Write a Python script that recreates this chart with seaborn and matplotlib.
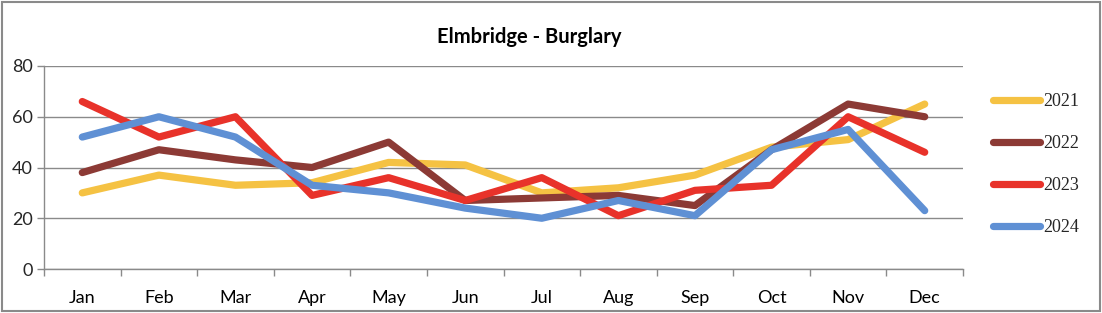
import matplotlib
matplotlib.use("Agg")
import matplotlib.pyplot as plt
import seaborn as sns
import pandas as pd
from matplotlib.patches import Rectangle
from matplotlib.lines import Line2D

months = ["Jan", "Feb", "Mar", "Apr", "May", "Jun", "Jul", "Aug", "Sep", "Oct", "Nov", "Dec"]
years = ["2021", "2022", "2023", "2024"]
v2021 = [30, 37, 33, 34, 42, 41, 30, 32, 37, 48, 51, 65]
v2022 = [38, 47, 43, 40, 50, 27, 28, 29, 25, 47, 65, 60]
v2023 = [66, 52, 60, 29, 36, 27, 36, 21, 31, 33, 60, 46]
v2024 = [52, 60, 52, 33, 30, 24, 20, 27, 21, 47, 55, 23]
colors = ["#F5C243", "#8C3A35", "#E8322A", "#5F90D4"]

rows = []
for y, vals in zip(years, [v2021, v2022, v2023, v2024]):
    for m, v in zip(months, vals):
        rows.append({"Month": m, "Year": y, "Value": v})
df = pd.DataFrame(rows)

sns.set_theme(style="white")
plt.rcParams["font.family"] = ["Lato", "DejaVu Sans"]

fig = plt.figure(figsize=(11.02, 3.13), dpi=100)
ax = fig.add_axes([44 / 1102, 1 - 269 / 313, (963 - 44) / 1102, (269 - 66) / 313])

sns.lineplot(data=df, x="Month", y="Value", hue="Year", palette=colors,
             linewidth=5.2, sort=False, ax=ax, legend=False,
             solid_capstyle="round", solid_joinstyle="round")

ax.set_xlim(-0.5, 11.5)
ax.set_ylim(0, 80)
ax.set_yticks([0, 20, 40, 60, 80])
ax.set_xticks(range(12))
ax.set_xticklabels(months)
ax.set_xticks([i - 0.5 for i in range(13)], minor=True)
ax.tick_params(axis="x", which="major", length=0, pad=15, labelsize=13, colors="#000000")
ax.tick_params(axis="x", which="minor", length=5, width=1, color="#8a8a8a", direction="out", bottom=True)
ax.tick_params(axis="y", length=5, width=1, color="#8a8a8a", direction="out", left=True, labelsize=13, pad=3)
ax.set_xlabel("")
ax.set_ylabel("")
ax.grid(axis="y", color="#8a8a8a", linewidth=1)
ax.set_axisbelow(True)
for s in ["top", "right"]:
    ax.spines[s].set_visible(False)
for s in ["left", "bottom"]:
    ax.spines[s].set_color("#8a8a8a")
    ax.spines[s].set_linewidth(1)

fig.text(529 / 1102, 1 - 37 / 313, "Elmbridge - Burglary", ha="center", va="center",
         fontsize=14.5, fontweight="bold", color="#000000")

handles = [Line2D([0], [0], color=c, linewidth=5.2, solid_capstyle="round") for c in colors]
leg = fig.legend(handles, years, loc="upper left", bbox_to_anchor=(977 / 1102, 1 - 77 / 313),
                 frameon=False, handlelength=2.6, labelspacing=1.38, handletextpad=0.15,
                 prop={"family": "Liberation Serif", "size": 13})

fig.patches.append(Rectangle((2 / 1102, 2 / 313), 1 - 4 / 1102, 1 - 4 / 313,
                             transform=fig.transFigure, fill=False, edgecolor="#8a8a8a", linewidth=1.5))

fig.savefig("out.png", dpi=100)
